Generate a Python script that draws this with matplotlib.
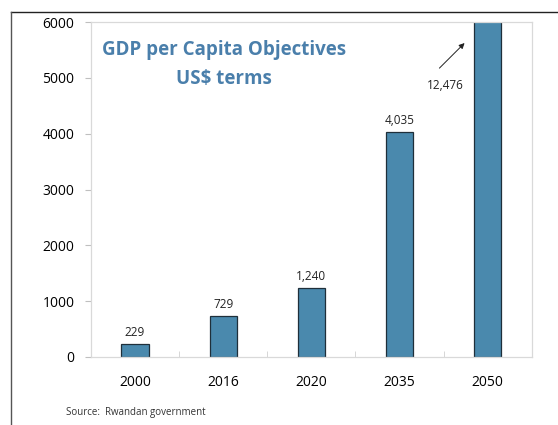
import numpy as np
import matplotlib.pyplot as plt
from matplotlib.lines import Line2D

plt.rcParams['font.family'] = ['Open Sans', 'DejaVu Sans']

years = ["2000", "2016", "2020", "2035", "2050"]
gdp_per_capita = [229, 729, 1240, 4035, 12476]
value_labels = ["229", "729", "1,240", "4,035", "12,476"]

bar_color = "#4A89AD"
title_color = "#4A7FAB"

fig = plt.figure(figsize=(5.58, 4.25), dpi=100)
ax = fig.add_axes([0.163, 0.16, 0.790, 0.788])

x = np.arange(len(years))
bars = ax.bar(x, gdp_per_capita, width=0.31, color=bar_color,
              edgecolor="#1F2F3A", linewidth=0.9)

ax.set_ylim(0, 6000)
ax.set_xlim(-0.5, len(years) - 0.5)
ax.set_yticks(range(0, 6001, 1000))
ax.set_xticks(x)
ax.set_xticklabels(years)
ax.set_xticks(np.arange(-0.5, len(years)), minor=True)

ax.tick_params(axis="y", length=4, color="#BFBFBF", labelsize=10, pad=8)
ax.tick_params(axis="x", which="major", length=0, labelsize=10, pad=13)
ax.tick_params(axis="x", which="minor", length=4, direction="in", color="#D0D0D0")
for spine in ax.spines.values():
    spine.set_color("#D9D9D9")
    spine.set_linewidth(0.9)

# value labels above the bars that fit on the scale
for i in range(len(years) - 1):
    ax.text(x[i], gdp_per_capita[i] + 90, value_labels[i],
            ha="center", va="bottom", fontsize=8.5, color="#222222")

# off-scale 2050 bar gets its label with an arrow
ax.text(3.52, 4870, value_labels[-1], ha="center", va="center",
        fontsize=8.5, color="#222222")
ax.annotate("", xy=(3.76, 5660), xytext=(3.43, 5140),
            arrowprops=dict(arrowstyle="-|>", color="#222222", lw=0.7,
                            mutation_scale=8))

ax.text(1.01, 5240, "GDP per Capita Objectives\nUS$ terms", ha="center",
        va="center", fontsize=13.5, fontweight="bold", color=title_color,
        linespacing=1.55)

fig.text(0.118, 0.030, "Source:  Rwandan government", fontsize=7,
         color="#333333", ha="left", va="center")

# frame lines along top and left of the figure
fig.add_artist(Line2D([0.020, 0.998], [0.972, 0.972], color="#222222", lw=1.0))
fig.add_artist(Line2D([0.020, 0.020], [0.0, 0.972], color="#555555", lw=1.0))

fig.savefig("out.png", dpi=100)
